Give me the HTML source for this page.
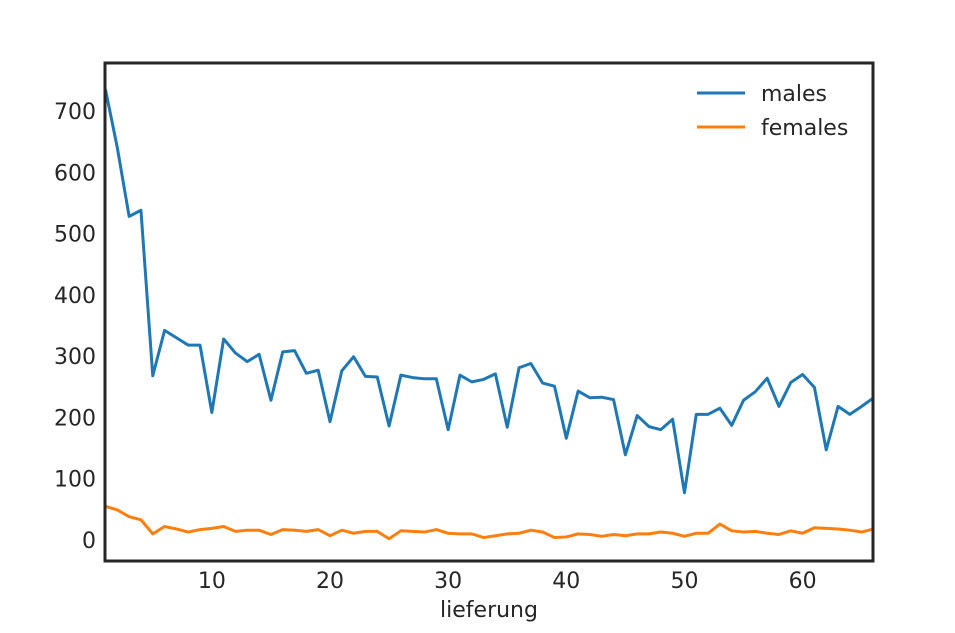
<!DOCTYPE html>
<html><head><meta charset="utf-8"><style>
body{margin:0;background:#fff;}
svg{display:block;font-family:"DejaVu Sans","Liberation Sans",sans-serif;}
</style></head><body>
<svg id="chart" width="955" height="633">
<rect x="0" y="0" width="955" height="633" fill="#fff"/>
<g id="plot"></g>
<rect x="105" y="63" width="768" height="498" fill="none" stroke="#262626" stroke-width="3"/>
<g id="xticks"></g><g id="yticks"></g>
<text x="489" y="617" text-anchor="middle" font-size="22" fill="#262626">lieferung</text>
<g>
<g>
<line x1="697" y1="93" x2="745" y2="93" stroke="#1f77b4" stroke-width="3"/>
<text x="761" y="101" font-size="22" fill="#262626">males</text></g>
<g>
<line x1="697" y1="127" x2="745" y2="127" stroke="#ff7f0e" stroke-width="3"/>
<text x="761" y="135" font-size="22" fill="#262626">females</text></g>
</g>
</svg>
<script>
const males=[735,640,528,538,268,342,330,318,318,208,328,305,291,303,228,307,309,272,277,193,276,299,267,266,186,269,265,263,263,180,269,258,262,271,184,281,288,256,251,166,243,232,233,229,139,203,185,180,197,77,205,205,215,187,228,242,264,218,257,270,249,147,218,205,218,232];
const females=[55,49,38,33,10,22,18,13,17,19,22,14,16,16,9,17,16,14,17,7,16,11,14,14,2,15,14,13,17,11,10,10,4,7,10,11,16,13,4,5,10,9,6,9,7,10,10,13,11,6,11,11,26,15,13,14,11,9,15,11,20,19,18,16,13,18];
const xTicks=[10,20,30,40,50,60];
const yTicks=[0,100,200,300,400,500,600,700];
const NS="http://www.w3.org/2000/svg";
function xs(v){return 105.5+(v-1)*(768/65);}
function ys(v){return 540-v*0.6129;}
const plot=document.getElementById('plot');
function addLine(arr,color,name){
  const p=document.createElementNS(NS,'polyline');
  p.setAttribute('points',arr.map((v,i)=>xs(i+1)+','+ys(v)).join(' '));
  p.setAttribute('fill','none');p.setAttribute('stroke',color);p.setAttribute('stroke-width','3');
  p.setAttribute('stroke-linejoin','round');
  
  
  plot.appendChild(p);
}
addLine(males,'#1f77b4','males-line');
addLine(females,'#ff7f0e','females-line');
const xg=document.getElementById('xticks');
xTicks.forEach(t=>{const e=document.createElementNS(NS,'text');
e.setAttribute('x',xs(t));e.setAttribute('y',588);e.setAttribute('text-anchor','middle');
e.setAttribute('font-size','22');e.setAttribute('fill','#262626');e.textContent=t;


xg.appendChild(e);});
const yg=document.getElementById('yticks');
yTicks.forEach(t=>{const e=document.createElementNS(NS,'text');
e.setAttribute('x',96);e.setAttribute('y',ys(t)+8);e.setAttribute('text-anchor','end');
e.setAttribute('font-size','22');e.setAttribute('fill','#262626');e.textContent=t;


yg.appendChild(e);});
</script>
</body></html>
